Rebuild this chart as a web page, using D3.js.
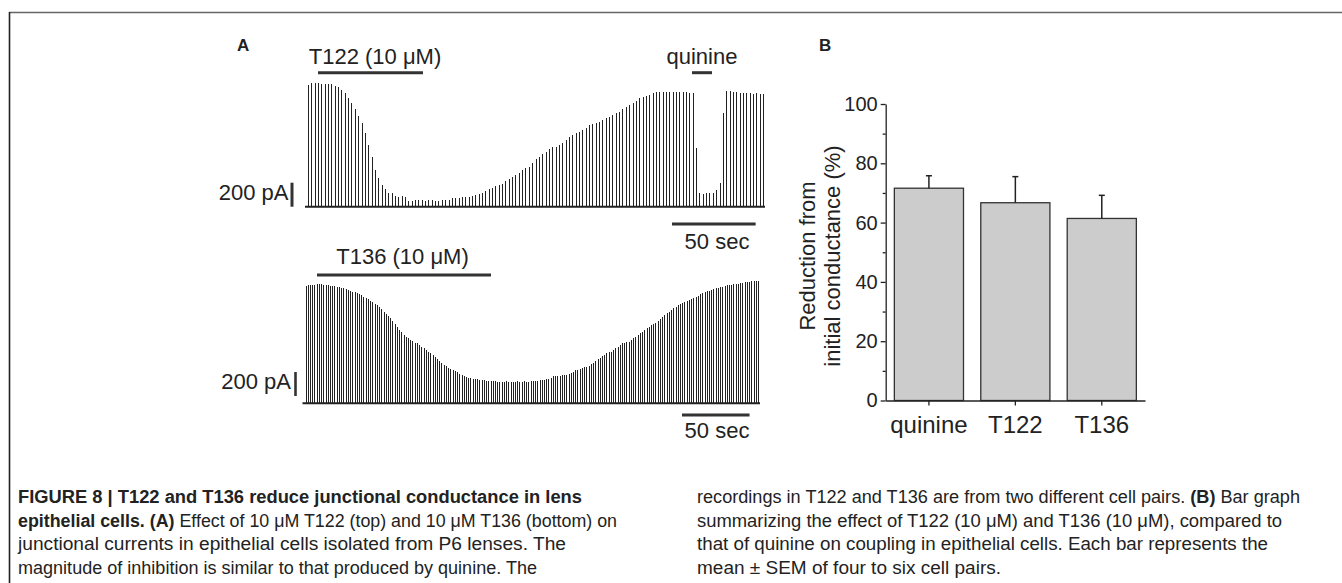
<!DOCTYPE html>
<html>
<head>
<meta charset="utf-8">
<script src="https://cdn.jsdelivr.net/npm/d3@7"></script>
<style>
  html, body { margin: 0; padding: 0; background: #fff; }
  svg { display: block; font-family: "Liberation Sans", Arial, Helvetica, sans-serif; }
</style>
</head>
<body>
<svg id="fig" width="1342" height="583"></svg>
<script>
//========================== Data ================================

// panel A, top recording: junctional current per pulse (pA), T122 then quinine
let topTrace = [
  1014, 1028, 1033, 1028, 1022, 1022, 1022, 1019, 1006, 994,
  972, 944, 908, 861, 814, 756, 694, 617, 514, 417,
  306, 236, 181, 147, 111, 111, 92, 83, 92, 83,
  50, 50, 56, 56, 56, 50, 56, 56, 50, 50,
  56, 56, 56, 69, 69, 69, 78, 83, 83, 89,
  97, 106, 117, 131, 144, 158, 172, 181, 189,
  215, 231, 250, 264, 283, 306, 319, 333, 367, 394,
  417, 439, 458, 478, 494, 494, 514, 533, 556, 583,
  597, 617, 625, 639, 653, 681, 686, 694, 708, 722,
  736, 750, 764, 778, 792, 811, 828, 847, 867, 883,
  903, 917, 925, 931, 944, 953, 956, 958, 958, 958,
  958, 958, 958, 958, 956, 950, 944,
  486, 117, 106, 111, 111, 117, 139, 200, 783, 964,
  967, 958, 958, 950, 944, 944, 944, 939, 944, 939, 936
]

// panel A, bottom recording: T136
let botTrace = [
  978, 982, 986, 988, 990, 992, 992, 992, 990, 988, 985, 981,
  978, 974, 970, 967, 963, 958, 953, 946, 940,
  931, 924, 916, 908, 900, 890, 880, 869, 856,
  843, 830, 819, 800, 783, 764, 745, 727, 708,
  685, 662, 639, 615, 592, 569, 555, 541, 528,
  516, 505, 500, 486, 472, 458, 444, 431, 417,
  400, 384, 367, 351, 335, 319, 307, 295, 283,
  275, 266, 258, 248, 238, 228, 221, 214, 208,
  205, 202, 200, 198, 196, 194, 190, 188, 186,
  183, 182, 181, 181, 180, 181, 182, 181, 181, 180, 181, 182, 181, 181, 182, 181, 181, 182,
  183, 186, 190, 194, 195, 194, 200, 204, 208,
  228, 228, 229, 228, 232, 236, 238, 244, 250,
  262, 278, 280, 286, 292, 299, 306, 314, 325,
  340, 356, 367, 380, 394, 405, 417, 424, 431,
  445, 459, 472, 486, 500, 505, 510, 514, 528,
  542, 556, 570, 583, 597, 611, 625, 639, 650,
  660, 667, 685, 704, 722, 736, 750, 764, 778,
  792, 806, 817, 828, 839, 846, 853, 861, 870,
  880, 889, 898, 908, 917, 924, 932, 939, 946,
  952, 958, 963, 968, 972, 977, 982, 986, 989,
  992, 994, 998, 1002, 1006, 1009, 1012, 1014, 1016, 1018, 1019, 1019
]

let topDt = 2, botDt = 1.65     // seconds between test pulses
let scalePA = 200, scaleSec = 50

// panel B
let categories = ['quinine', 'T122', 'T136']
let means = [71.6, 66.7, 61.4]
let sems = [4.2, 8.8, 7.8]
let yTicks = [0, 20, 40, 60, 80, 100]
let yMinor = [10, 30, 50, 70, 90]

// caption, one entry per line: [bold, text] pieces
let captionLeft = [
  [[1, 'FIGURE 8 | T122 and T136 reduce junctional conductance in lens']],
  [[1, 'epithelial cells. (A)'], [0, ' Effect of 10 μM T122 (top) and 10 μM T136 (bottom) on']],
  [[0, 'junctional currents in epithelial cells isolated from P6 lenses. The']],
  [[0, 'magnitude of inhibition is similar to that produced by quinine. The']]
]
let captionRight = [
  [[0, 'recordings in T122 and T136 are from two different cell pairs. '], [1, '(B)'], [0, ' Bar graph']],
  [[0, 'summarizing the effect of T122 (10 μM) and T136 (10 μM), compared to']],
  [[0, 'that of quinine on coupling in epithelial cells. Each bar represents the']],
  [[0, 'mean ± SEM of four to six cell pairs.']]
]
let leftWidths = [564, 599, 548, 519]
let rightWidths = [603, 585, 571, 304]

//========================== Drawing ================================

let svg = d3.select('#fig')
let ink = '#222'

// page frame
svg.append('line').attr('x1', 9).attr('x2', 1342).attr('y1', 12.5).attr('y2', 12.5)
  .attr('stroke', '#666').attr('stroke-width', 1.6)
svg.append('line').attr('x1', 9.5).attr('x2', 9.5).attr('y1', 12).attr('y2', 583)
  .attr('stroke', '#222').attr('stroke-width', 1.6)

let text = (x, y, t, size, anchor, weight) => svg.append('text')
  .attr('x', x).attr('y', y).attr('font-size', size)
  .attr('text-anchor', anchor || 'start')
  .attr('font-weight', weight || 'normal')
  .attr('fill', ink).text(t)

let hbar = (x1, x2, y, w) => svg.append('line')
  .attr('x1', x1).attr('x2', x2).attr('y1', y).attr('y2', y)
  .attr('stroke', '#333').attr('stroke-width', w || 3)

let vbar = (x, y1, y2, w) => svg.append('line')
  .attr('x1', x).attr('x2', x).attr('y1', y1).attr('y2', y2)
  .attr('stroke', '#333').attr('stroke-width', w || 3)

// one pulse = one vertical line from the baseline
let drawTrace = (vals, dt, x0, x1, base) => {
  let x = d3.scaleLinear().domain([0, (vals.length - 1) * dt]).range([x0, x1])
  let y = d3.scaleLinear().domain([0, 1000]).range([base, base - 120])
  let g = svg.append('g')
  g.selectAll('line.pulse').data(vals).join('line')
    .attr('class', 'pulse')
    .attr('x1', (d, i) => Math.round(x(i * dt)) + 0.5)
    .attr('x2', (d, i) => Math.round(x(i * dt)) + 0.5)
    .attr('y1', y(0))
    .attr('y2', d => y(d))
    .attr('stroke', ink)
    .attr('stroke-width', 1)
    .attr('shape-rendering', 'crispEdges')
  g.append('line')
    .attr('x1', x0 - 3).attr('x2', x1 + 2)
    .attr('y1', base).attr('y2', base)
    .attr('stroke', ink).attr('stroke-width', 2)
  return { x, y }
}

//----- panel A -----
text(237, 51, 'A', 17, 'start', 'bold')

let traceTop = drawTrace(topTrace, topDt, 308, 763, 206.7)
text(375, 63.5, 'T122 (10 μM)', 22, 'middle')
hbar(318, 423, 72.7)
text(702, 63.5, 'quinine', 22, 'middle')
hbar(692, 712, 72.7)
vbar(292, traceTop.y(scalePA), traceTop.y(0))
text(288.5, 200, '200 pA', 22, 'end')
let topSec = traceTop.x(scaleSec) - traceTop.x(0)
hbar(672, 672 + topSec, 224)
text(717, 248.5, '50 sec', 22, 'middle')

let traceBot = drawTrace(botTrace, botDt, 305.5, 758, 403.3)
text(402.5, 263.5, 'T136 (10 μM)', 22, 'middle')
hbar(317, 491, 275)
vbar(295.5, 372, 372 + traceBot.y(0) - traceBot.y(scalePA), 2.6)
text(291, 388.5, '200 pA', 22, 'end')
let botSec = traceBot.x(scaleSec) - traceBot.x(0)
hbar(682, 682 + botSec, 415)
text(717, 438, '50 sec', 22, 'middle')

//----- panel B -----
text(819, 51, 'B', 17, 'start', 'bold')

let xB = d3.scaleBand().domain(categories).range([885.7, 1145]).paddingInner(0.2).paddingOuter(0.1)
let yB = d3.scaleLinear().domain([0, 100]).range([400.5, 104])

let gB = svg.append('g')

gB.selectAll('rect.bar').data(means).join('rect')
  .attr('class', 'bar')
  .attr('x', (d, i) => xB(categories[i]))
  .attr('width', xB.bandwidth())
  .attr('y', d => yB(d))
  .attr('height', d => yB(0) - yB(d))
  .attr('fill', '#cccccc')
  .attr('stroke', '#333')
  .attr('stroke-width', 1.3)

gB.selectAll('line.err').data(means).join('line')
  .attr('class', 'err')
  .attr('x1', (d, i) => xB(categories[i]) + xB.bandwidth() / 2)
  .attr('x2', (d, i) => xB(categories[i]) + xB.bandwidth() / 2)
  .attr('y1', d => yB(d))
  .attr('y2', (d, i) => yB(d + sems[i]))
  .attr('stroke', ink).attr('stroke-width', 1.5)

gB.selectAll('line.cap').data(means).join('line')
  .attr('class', 'cap')
  .attr('x1', (d, i) => xB(categories[i]) + xB.bandwidth() / 2 - 3)
  .attr('x2', (d, i) => xB(categories[i]) + xB.bandwidth() / 2 + 3)
  .attr('y1', (d, i) => yB(d + sems[i]))
  .attr('y2', (d, i) => yB(d + sems[i]))
  .attr('stroke', ink).attr('stroke-width', 1.5)

let yAxis = gB.append('g').attr('transform', 'translate(885.7,0)')
  .call(d3.axisLeft(yB).tickValues(yTicks).tickSize(5).tickSizeOuter(0).tickPadding(3))
let yAxisMinor = gB.append('g').attr('transform', 'translate(885.7,0)')
  .call(d3.axisLeft(yB).tickValues(yMinor).tickSize(3).tickFormat(''))
yAxisMinor.select('.domain').remove()

let xAxis = gB.append('g').attr('transform', 'translate(0,400.5)')
  .call(d3.axisBottom(xB).tickSize(5).tickSizeOuter(0).tickPadding(10))

gB.selectAll('.domain, .tick line').attr('stroke', ink).attr('stroke-width', 1.3)
yAxis.selectAll('text').attr('font-size', 20).attr('fill', ink)
xAxis.selectAll('text').attr('font-size', 24).attr('fill', ink)
gB.selectAll('g').attr('font-family', null)

svg.append('text')
  .attr('transform', 'translate(815,256) rotate(-90)')
  .attr('text-anchor', 'middle').attr('font-size', 22).attr('fill', ink)
  .text('Reduction from')
svg.append('text')
  .attr('transform', 'translate(840,256) rotate(-90)')
  .attr('text-anchor', 'middle').attr('font-size', 22).attr('fill', ink)
  .text('initial conductance (%)')

//----- caption -----
let caption = (lines, widths, x) => {
  lines.forEach((pieces, i) => {
    let t = svg.append('text')
      .attr('x', x).attr('y', 503 + i * 23.5)
      .attr('font-size', 17.5)
      .attr('font-family', '"Liberation Sans", Arial, sans-serif')
      .attr('fill', ink)
      .attr('textLength', widths[i])
      .attr('lengthAdjust', 'spacingAndGlyphs')
    pieces.forEach(p => {
      t.append('tspan').attr('font-weight', p[0] ? 'bold' : 'normal').text(p[1])
    })
  })
}
caption(captionLeft, leftWidths, 18)
caption(captionRight, rightWidths, 697)
</script>
</body>
</html>
